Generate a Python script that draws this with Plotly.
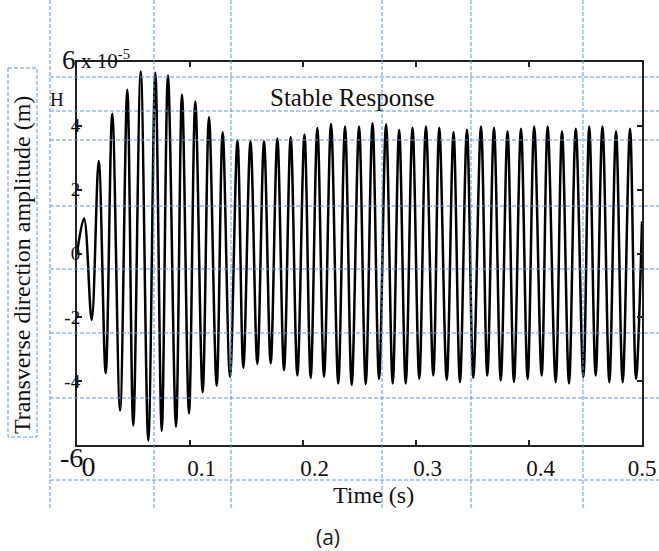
import plotly.graph_objects as go

# Transverse response of the beam: local maxima / minima of the time history
# (amplitude in units of 1e-5 m, time in s)
peak_t = [0.0062, 0.0192, 0.0312, 0.0445, 0.0564, 0.0693, 0.0805, 0.0929, 0.1047, 0.1168,
          0.1289, 0.1420, 0.1535, 0.1655, 0.1773, 0.1891, 0.2013, 0.2127, 0.2248, 0.2372,
          0.2496, 0.2615, 0.2735, 0.2851, 0.2969, 0.3088, 0.3206, 0.3332, 0.3451, 0.3575,
          0.3690, 0.3810, 0.3929, 0.4046, 0.4165, 0.4292, 0.4414, 0.4533, 0.4650, 0.4770,
          0.4894]
peak_amp = [1.10, 2.90, 4.38, 5.13, 5.70, 5.66, 5.58, 4.98, 4.76, 4.27,
            3.80, 3.54, 3.52, 3.52, 3.60, 3.65, 3.73, 3.93, 4.06, 3.98,
            3.98, 4.08, 4.05, 3.87, 3.94, 3.98, 3.94, 3.80, 3.88, 3.98,
            3.94, 3.83, 3.91, 3.98, 3.98, 3.83, 3.91, 3.98, 3.98, 3.83,
            3.91]
trough_t = [0.0130, 0.0254, 0.0381, 0.0498, 0.0631, 0.0750, 0.0876, 0.0991, 0.1112, 0.1236,
            0.1354, 0.1472, 0.1596, 0.1714, 0.1832, 0.1950, 0.2068, 0.2186, 0.2312, 0.2431,
            0.2555, 0.2673, 0.2794, 0.2909, 0.3029, 0.3153, 0.3272, 0.3389, 0.3507, 0.3631,
            0.3750, 0.3867, 0.3988, 0.4112, 0.4236, 0.4354, 0.4481, 0.4590, 0.4711, 0.4829,
            0.4947]
trough_amp = [-2.08, -3.75, -4.92, -5.39, -5.86, -5.55, -5.42, -5.01, -4.35, -4.14,
              -3.86, -3.58, -3.46, -3.44, -3.65, -3.82, -3.90, -3.86, -4.07, -4.12,
              -4.09, -3.93, -4.07, -4.07, -3.93, -3.82, -3.96, -4.03, -3.90, -3.82,
              -3.98, -4.03, -3.93, -3.82, -4.03, -4.07, -3.87, -3.82, -4.03, -4.03,
              -3.93]
start_t, start_amp = 0.0, 0.0
end_t, end_amp = 0.5, 1.0

x_tick_vals = [0, 0.1, 0.2, 0.3, 0.4, 0.5]
x_tick_text = ["0", "0.1", "0.2", "0.3", "0.4", "0.5"]
y_tick_vals = [-4, -2, 0, 2, 4, 6]
y_tick_text = ["-4", "-2", "0", "2", "4", "6"]
y_bottom_label = "-6"

# assemble the time history: start, alternating max/min, end
t = [start_t]
amp = [start_amp]
for tp, ap, tt, at in zip(peak_t, peak_amp, trough_t, trough_amp):
    t += [tp, tt]
    amp += [ap, at]
t.append(end_t)
amp.append(end_amp)

W, H = 659, 551
L, R, T, B = 77, 642, 62, 445   # plot box in pixels
SERIF = "Liberation Serif"
INK = "#111111"
DASH_BLUE = "#5b95e0"


def px(xp):
    return (xp - L) / (R - L)


def py(yp):
    return (B - yp) / (B - T)


# x labels sit a little right of their ticks, except the last one at the frame edge
pad = "&nbsp;" * 4
x_text = [pad + s for s in x_tick_text[:-1]] + [x_tick_text[-1]]
x_text[0] = pad + '<span style="font-size:28px">0</span>'
y_text = list(y_tick_text)
y_text[-1] = '<span style="font-size:27px">6</span>&nbsp;'

fig = go.Figure()
fig.add_trace(go.Scatter(x=t, y=amp, mode="lines",
                         line=dict(color="black", width=2.5, shape="spline", smoothing=1.0),
                         showlegend=False, hoverinfo="skip"))

axis_common = dict(showline=True, linecolor="#222222", linewidth=2, mirror="ticks",
                   ticks="inside", ticklen=5, tickwidth=1.5, tickcolor="#222222",
                   showgrid=False, zeroline=False, ticklabeloverflow="allow",
                   automargin=False)

fig.update_xaxes(range=[0, 0.5], tickvals=x_tick_vals, ticktext=x_text,
                 tickfont=dict(family=SERIF, size=23, color=INK),
                 ticklabelstandoff=1, **axis_common)
fig.update_yaxes(range=[-6, 6], tickvals=y_tick_vals, ticktext=y_text,
                 tickfont=dict(family=SERIF, size=19, color=INK),
                 ticklabelstandoff=-9, **axis_common)

# dashed guide lines across the page
shapes = []
dash_line = dict(color=DASH_BLUE, width=1, dash="4px,2px")
for xv in [50, 154, 231, 382, 471, 583]:
    shapes.append(dict(type="line", xref="paper", yref="paper",
                       x0=px(xv), x1=px(xv), y0=py(0), y1=py(508), line=dash_line, layer="above"))
for yv in [77, 111, 140, 206, 269, 333, 398, 480]:
    shapes.append(dict(type="line", xref="paper", yref="paper",
                       x0=px(50), x1=px(659), y0=py(yv), y1=py(yv), line=dash_line, layer="above"))
shapes.append(dict(type="rect", xref="paper", yref="paper",
                   x0=px(8), x1=px(37), y0=py(68), y1=py(437), line=dash_line, layer="above"))


def note(text, x, y, size, xref="paper", yref="paper", xanchor="center", family=SERIF,
         color=INK, **kw):
    return dict(text=text, xref=xref, yref=yref, x=x, y=y, showarrow=False,
                xanchor=xanchor, yanchor="middle",
                font=dict(family=family, size=size, color=color), **kw)


annotations = [
    note("Stable Response", 0.244, 4.89, 25, xref="x", yref="y"),
    note("H", px(57), py(99), 19),
    note("x 10<sup>-5</sup>", px(79), py(60), 21, xanchor="left"),
    note(y_bottom_label, px(85), -6, 28, yref="y", xanchor="right", yshift=-12),
    note("Time (s)", px(373), py(495), 24),
    note("Transverse direction amplitude (m)", px(22), py(265), 24, textangle=-90),
    note("(a)", px(328), py(537), 21, family="Open Sans", color="#222222"),
]

fig.update_layout(width=W, height=H, margin=dict(l=L, r=W - R, t=T, b=H - B),
                  paper_bgcolor="white", plot_bgcolor="white",
                  shapes=shapes, annotations=annotations)

fig.write_html("out.html")
